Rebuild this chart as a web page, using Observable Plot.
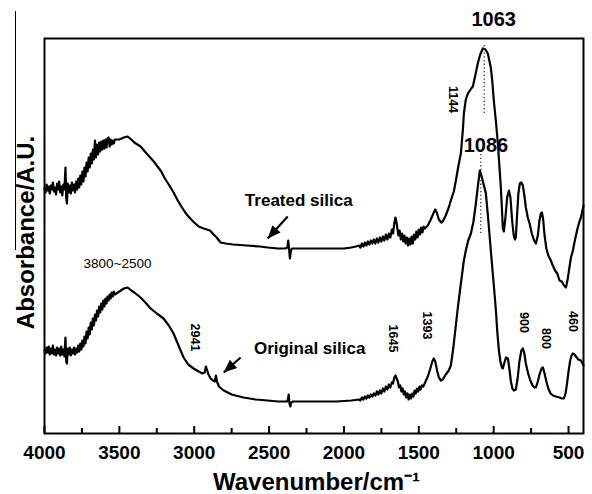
<!DOCTYPE html>
<html>
<head>
<meta charset="utf-8">
<script src="https://cdn.jsdelivr.net/npm/d3@7"></script>
<script src="https://cdn.jsdelivr.net/npm/@observablehq/plot@0.6"></script>
<style>
  html, body { margin: 0; padding: 0; background: #fff; }
  #wrap { position: relative; width: 592px; height: 494px; }
  #edge { position: absolute; left: 15px; top: 11px; width: 1.3px; height: 239px; background: #000; }
</style>
</head>
<body>
<div id="wrap"><div id="edge"></div></div>
<script>
// ---- data: [wavenumber (cm-1), absorbance (a.u., arbitrary offset)] ----
const treatedSpectrum = [
[4000,245],[3993,241],[3986,249],[3979,243],[3972,247],[3965,240],[3958,248],[3951,244],[3944,251],[3937,242],
[3930,246],[3923,239],[3916,250],[3909,244],[3902,252],[3895,241],[3888,247],[3881,238],[3874,249],[3867,244],
[3860,266],[3855,236],[3850,230],[3845,250],[3838,241],[3831,248],[3824,240],[3817,251],[3810,243],[3803,249],
[3796,241],[3789,252],[3782,244],[3775,255],[3768,246],[3761,258],[3754,249],[3747,262],[3740,252],[3733,266],
[3726,257],[3719,271],[3712,262],[3705,276],[3698,266],[3691,280],[3684,270],[3677,284],[3670,274],[3663,293],
[3656,276],[3649,289],[3642,279],[3635,291],[3628,282],[3621,292],[3614,284],[3607,293],[3600,285],[3593,294],
[3586,286],[3579,295],[3572,296],[3565,287],[3558,294],[3551,289],[3544,293],[3537,290],[3530,294],
[3500,294],[3470,296],[3445,297],[3420,294],[3400,291],[3358,287],[3330,282],[3300,277],[3270,272],[3245,267],
[3220,262],[3200,256],[3170,249],[3138,241],[3110,233],[3090,228],[3060,221],[3044,218],[3020,214],[3000,211],
[2970,207],[2937,205],[2915,204],[2895,203],[2870,199],[2850,196],[2824,191],[2790,190],[2740,189],[2650,188],
[2560,187],[2510,186],[2440,185],[2390,185],[2378,186],[2372,193],[2366,184],[2361,175],[2355,182],[2348,185],
[2300,185],[2200,185],[2100,185],[2000,185],[1950,186],[1920,187],
[1900,188],[1890,186],[1880,190],[1870,187],[1860,191],[1850,188],[1840,192],[1830,189],[1820,193],[1810,190],
[1800,194],[1790,190],[1780,195],[1770,191],[1760,196],[1750,192],[1740,197],[1730,193],[1720,199],[1710,194],
[1700,200],[1690,196],[1680,204],[1672,200],[1664,210],[1656,216],[1650,212],[1644,206],[1636,198],[1628,203],
[1620,194],[1612,200],[1604,192],[1596,198],[1588,190],[1580,196],[1572,188],[1564,195],[1556,189],[1548,197],
[1540,190],[1532,199],[1524,194],[1516,202],[1508,196],[1500,204],[1492,199],[1484,206],[1476,201],[1468,207],
[1460,205],[1440,208],[1420,214],[1400,221],[1390,224],[1380,221],[1366,214],[1350,211],[1340,212],[1320,218],
[1300,226],[1280,236],[1266,242],[1250,255],[1235,268],[1219,280],[1205,305],[1199,320],[1186,334],[1172,340],
[1150,345],[1139,347],[1120,360],[1106,370],[1090,379],[1072,385],[1055,384],[1039,380],[1019,366],[1009,352],
[999,333],[985,312],[972,290],[962,268],[952,246],[944,222],[939,205],[932,202],[922,215],[910,236],
[898,243],[888,236],[876,212],[866,198],[858,194],[852,196],[845,215],[835,240],[825,250],[815,251],
[805,248],[795,238],[785,226],[772,216],[760,210],[745,200],[730,193],[718,190],[705,198],[695,212],
[685,220],[678,221],[670,215],[660,198],[648,185],[635,178],[618,173],[605,168],[590,163],[575,160],
[560,153],[545,152],[530,148],[517,146],[505,155],[495,165],[485,175],[471,183],[455,195],[440,205],
[425,213],[417,216],[400,228]
];

const originalSpectrum = [
[4000,83],[3993,80],[3986,86],[3979,81],[3972,87],[3965,79],[3958,85],[3951,80],[3944,88],[3937,79],
[3930,84],[3923,78],[3916,86],[3909,80],[3902,85],[3895,78],[3888,87],[3881,79],[3874,84],[3867,77],
[3860,96],[3855,72],[3850,70],[3845,85],[3838,79],[3831,86],[3824,78],[3817,84],[3810,80],[3803,86],
[3796,79],[3789,85],[3782,81],[3775,88],[3768,82],[3761,90],[3754,84],[3747,93],[3740,87],[3733,97],
[3726,90],[3719,102],[3712,95],[3705,106],[3698,99],[3691,111],[3684,104],[3677,115],[3670,108],[3663,119],
[3656,113],[3649,123],[3642,117],[3635,127],[3628,121],[3621,130],[3614,124],[3607,133],[3600,127],[3593,135],
[3586,130],[3579,137],[3572,133],[3565,139],[3558,135],[3551,141],[3544,137],[3537,142],[3530,139],
[3500,142],[3470,145],[3445,146],[3420,143],[3400,141],[3358,136],[3320,130],[3291,125],[3250,120],[3205,115],
[3170,108],[3138,100],[3105,88],[3071,76],[3040,69],[3004,65],[2970,62],[2945,60],[2930,61],[2922,67],
[2915,64],[2905,59],[2890,55],[2875,53],[2862,52],[2855,58],[2848,52],[2835,47],[2820,45],[2803,43],
[2750,39],[2670,36],[2590,34],[2510,33],[2440,32],[2380,32],[2374,34],[2369,39],[2364,30],[2358,27],
[2352,31],[2340,32],[2250,32],[2150,32],[2050,32],[1950,33],[1900,34],
[1890,33],[1880,36],[1870,34],[1860,37],[1850,35],[1840,38],[1830,36],[1820,39],[1810,37],[1800,40],
[1790,38],[1780,42],[1770,39],[1760,43],[1750,40],[1740,45],[1730,42],[1720,47],[1710,44],[1700,49],
[1690,46],[1680,51],[1672,50],[1664,56],[1656,58],[1648,55],[1640,52],[1632,46],[1624,48],[1616,42],
[1608,45],[1600,39],[1592,42],[1584,36],[1576,40],[1568,34],[1560,39],[1552,35],[1544,40],[1536,37],
[1528,43],[1520,40],[1512,45],[1504,42],[1496,47],[1488,44],[1480,48],[1470,47],
[1455,52],[1440,57],[1425,64],[1410,72],[1400,75],[1390,72],[1378,63],[1366,56],[1352,53],[1340,54],
[1320,59],[1300,63],[1286,68],[1270,85],[1255,105],[1240,125],[1219,150],[1200,172],[1186,183],[1170,193],
[1152,200],[1135,212],[1119,230],[1105,248],[1092,263],[1080,257],[1065,248],[1052,240],[1035,212],[1019,183],
[1000,150],[985,123],[975,100],[965,83],[955,72],[945,66],[939,65],[930,70],[918,76],[905,75],
[895,65],[885,52],[875,45],[865,43],[852,44],[840,55],[828,72],[815,83],[805,85],[795,80],
[785,70],[770,60],[755,53],[740,48],[728,46],[718,46],[705,52],[692,60],[680,65],[671,66],
[660,60],[648,52],[635,45],[620,40],[604,38],[585,37],[560,36],[545,35],[531,35],[520,40],
[510,50],[500,62],[490,72],[480,78],[471,80],[460,79],[450,77],[435,74],[417,73],[400,68]
];

const majorTicks = [4000, 3500, 3000, 2500, 2000, 1500, 1000, 500];
const minorTicks = [3750, 3250, 2750, 2250, 1750, 1250, 750];

const mainPeakLabels = [
  {text: "1063", w: 1000, a: 414},
  {text: "1086", w: 1052, a: 288}
];
const peakGuides = [
  {w: 1063, a1: 320, a2: 390},
  {w: 1086, a1: 200, a2: 283}
];
const bandLabels = [
  {text: "1144", w: 1273, a: 334},
  {text: "2941", w: 2997, a: 96},
  {text: "1645", w: 1674, a: 95},
  {text: "1393", w: 1447, a: 108},
  {text: "900", w: 798, a: 111},
  {text: "800", w: 651, a: 95},
  {text: "460", w: 471, a: 112}
];
const rangeLabel = [{text: "3800~2500", w: 3512, a: 170}];
const sampleLabels = [
  {text: "Treated silica", w: 2302, a: 233},
  {text: "Original silica", w: 2229, a: 85}
];
const arrows = [
  {w1: 2376, a1: 217, w2: 2509, a2: 195},
  {w1: 2690, a1: 76, w2: 2803, a2: 61}
];

// ---- chart ----
const W = 592, H = 494;
const margin = {left: 44, right: 9, top: 38, bottom: 61};
const xDomain = [4000, 400], yDomain = [0, 395];
const sx = Plot.scale({x: {domain: xDomain, range: [margin.left, W - margin.right]}});
const sy = Plot.scale({y: {domain: yDomain, range: [H - margin.bottom, margin.top]}});
const headAngle = d => {
  const dx = sx.apply(d.w2) - sx.apply(d.w1);
  const dy = sy.apply(d.a2) - sy.apply(d.a1);
  return Math.atan2(dx, -dy) * 180 / Math.PI;
};
const arrowHead = {
  draw(context) {
    context.moveTo(0, 0);
    context.lineTo(-5.5, 13);
    context.lineTo(5.5, 13);
    context.closePath();
  }
};
const font = "'Liberation Sans', Arial, Helvetica, sans-serif";

const chart = Plot.plot({
  width: W, height: H,
  marginLeft: margin.left, marginRight: margin.right,
  marginTop: margin.top, marginBottom: margin.bottom,
  x: {domain: xDomain},
  y: {domain: yDomain, axis: null},
  style: {fontFamily: font, color: "black", background: "white", overflow: "visible"},
  marks: [
    Plot.axisX({ticks: majorTicks, tickSize: 0, tickPadding: 12, fontSize: 19, fontWeight: "bold",
      tickFormat: d => String(d), label: null}),
    Plot.ruleX(majorTicks, {x: d => d, y1: 0, y2: 7, strokeWidth: 2, stroke: "black"}),
    Plot.ruleX(minorTicks, {x: d => d, y1: 0, y2: 5, strokeWidth: 2, stroke: "black"}),
    Plot.line(treatedSpectrum, {x: d => d[0], y: d => d[1], stroke: "black", strokeWidth: 2.2, strokeLinejoin: "round"}),
    Plot.line(originalSpectrum, {x: d => d[0], y: d => d[1], stroke: "black", strokeWidth: 2.2, strokeLinejoin: "round"}),
    Plot.ruleX(peakGuides, {x: "w", y1: "a1", y2: "a2", stroke: "#333", strokeWidth: 1.3, strokeDasharray: "1.3,2.4"}),
    Plot.link(arrows, {x1: "w1", y1: "a1", x2: "w2", y2: "a2", stroke: "black", strokeWidth: 2.2}),
    Plot.dot(arrows, {x: "w2", y: "a2", symbol: arrowHead, rotate: headAngle, fill: "black", stroke: "none"}),
    Plot.text(mainPeakLabels, {x: "w", y: "a", text: "text", fontSize: 20, fontWeight: "bold", lineAnchor: "middle", clip: false}),
    Plot.text(bandLabels, {x: "w", y: "a", text: "text", fontSize: 12.5, fontWeight: "bold", rotate: 90, lineAnchor: "middle"}),
    Plot.text(rangeLabel, {x: "w", y: "a", text: "text", fontSize: 13.5, lineAnchor: "middle"}),
    Plot.text(sampleLabels, {x: "w", y: "a", text: "text", fontSize: 17, fontWeight: "bold", lineAnchor: "middle"}),
    Plot.text(["Wavenumber/cm\u207B\u00B9"], {frameAnchor: "bottom", dy: 39, dx: 2.5, lineAnchor: "top", textAnchor: "middle", fontSize: 24, fontWeight: "bold"}),
    Plot.text(["Absorbance/A.U."], {frameAnchor: "left", dx: -18.5, dy: -3.5, rotate: -90, textAnchor: "middle", lineAnchor: "middle", fontSize: 24, fontWeight: "bold"}),
    Plot.frame({stroke: "black", strokeWidth: 2})
  ]
});
document.getElementById("wrap").appendChild(chart);
</script>
</body>
</html>
